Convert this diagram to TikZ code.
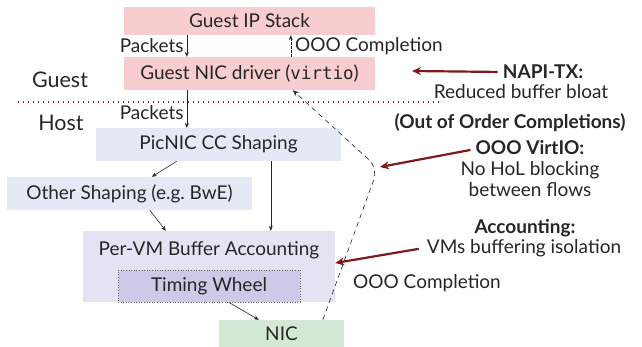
\documentclass[tikz,border=0pt]{standalone}
\usepackage{fontspec}
\setmainfont{Lato}
\setmonofont[Scale=0.92]{DejaVu Sans Mono}
\usetikzlibrary{arrows.meta,calc}
\definecolor{guestpink}{HTML}{F8CDCF}
\definecolor{hostblue}{HTML}{E5E9F5}
\definecolor{vmlav}{HTML}{E5E3F3}
\definecolor{wheel}{HTML}{CDC9E6}
\definecolor{nicgreen}{HTML}{D4E9D3}
\definecolor{darkred}{HTML}{7F1A1C}
\definecolor{txt}{HTML}{262626}
\tikzset{
  box/.style={rectangle, inner sep=0pt, text=txt},
  lbl/.style={inner sep=0pt, text=txt},
  bold/.style={font=\fontsize{19}{22}\selectfont\bfseries},
  side/.style={font=\fontsize{21.5}{24}\selectfont},
  flow/.style={draw=txt, line width=0.6pt, -{Stealth[length=5pt,width=4pt]}},
  callout/.style={draw=darkred, line width=2.2pt, -{Stealth[length=9pt,width=8pt]}},
}
\begin{document}
\begin{tikzpicture}[x=1pt,y=-1pt,font=\fontsize{19}{22}\selectfont]
\useasboundingbox (0,0) rectangle (642,347);
% boxes
\node[box, fill=guestpink, minimum width=251pt, minimum height=28pt] (ip) at (249.5,21) {Guest IP Stack};
\node[box, fill=guestpink, minimum width=251pt, minimum height=33pt] (drv) at (249.5,73.5) {Guest NIC driver ({\ttfamily virtio})};
\node[box, fill=hostblue, minimum width=245pt, minimum height=33pt] (pic) at (218.5,144.5) {PicNIC CC Shaping};
\node[box, fill=hostblue, minimum width=245pt, minimum height=33pt] (oth) at (129.5,193.5) {Other Shaping (e.g.\ BwE)};
\node[box, fill=vmlav, minimum width=252pt, minimum height=71pt] (vm) at (209,266.5) {};
\node[lbl] (vmt) at (209,250) {Per-VM Buffer Accounting};
\node[box, fill=wheel, draw=txt!70, dotted, line width=0.6pt, minimum width=182pt, minimum height=32pt] (tw) at (209,286) {Timing Wheel};
\node[box, fill=nicgreen, minimum width=125pt, minimum height=28pt] (nic) at (281.5,334) {NIC};
% side labels
\node[lbl, side] (guest) at (60,80) {Guest};
\node[lbl, side] (host) at (61,123) {Host};
\coordinate (dl) at (18,102);
\coordinate (dr) at (443,102);
\draw[darkred, line width=1.1pt, dash pattern=on 1pt off 4pt] (dl) -- (dr);
% flow arrows
\draw[flow] ([xshift=63pt]ip.south west) -- node[lbl, left=3pt] (pk1) {Packets} ([xshift=63pt]drv.north west);
\draw[flow, dash pattern=on 2.5pt off 1.5pt] ([xshift=167pt]drv.north west) -- node[lbl, right=4pt] (ooo1) {OOO Completion} ([xshift=167pt]ip.south west);
\draw[flow] ([xshift=63pt]drv.south west) -- node[lbl, left=3pt, pos=0.6] (pk2) {Packets} ([xshift=91pt]pic.north west);
\draw[flow] ([xshift=81pt]pic.south west) -- ([xshift=145pt]oth.north west);
\draw[flow] ([xshift=143pt]oth.south west) -- ([xshift=83pt]vm.north west);
\draw[flow] ([xshift=175pt]pic.south west) -- ([xshift=188pt]vm.north west);
\draw[flow] ([xshift=111pt]tw.south west) -- ([xshift=40pt]nic.north west);
% dashed completion path
\coordinate (bend) at (378,168);
\draw[dash pattern=on 5pt off 4pt, line width=0.6pt, draw=txt, -{Stealth[length=6pt,width=5pt]}, rounded corners=12pt]
  ([xshift=104pt]nic.north west) -- (bend) -- ([xshift=169pt]drv.south west);
% right texts
\node[lbl, bold] (napi) at (543,72) {NAPI-TX:};
\node[lbl] (napi2) at (521,92) {Reduced buffer bloat};
\node[lbl, bold] (oooc) at (510,123) {(Out of Order Completions)};
\node[lbl, bold] (virt) at (530,148) {OOO VirtIO:};
\node[lbl] (virt2) at (530,170) {No HoL blocking};
\node[lbl] (virt3) at (530,190) {between flows};
\node[lbl, bold] (acc) at (525,228) {Accounting:};
\node[lbl] (acc2) at (524,248) {VMs buffering isolation};
\node[lbl] (ooo2) at (427,283) {OOO Completion};
% callout arrows
\coordinate (napitip) at (412,71);
\coordinate (virttip) at (380,167);
\draw[callout, shorten <=5pt] (napi.west) -- (napitip);
\draw[callout, shorten <=5pt] ([yshift=-1pt]virt.west) -- (virttip);
\draw[callout, shorten <=5pt] ([xshift=-3pt]acc2.west) -- ([yshift=3.5pt]vm.east);
\end{tikzpicture}
\end{document}
